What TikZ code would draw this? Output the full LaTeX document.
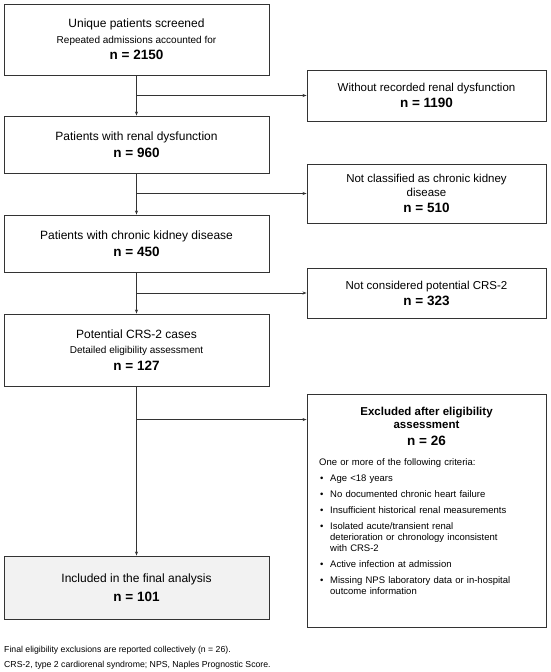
\documentclass[tikz,border=0pt]{standalone}
\usepackage{fontspec}
\setmainfont{Liberation Sans}
\usetikzlibrary{arrows.meta,positioning}
\def\nval#1{{\fontsize{13.5}{16}\selectfont\bfseries n = #1}}
\def\subtxt#1{{\fontsize{10}{15.5}\selectfont #1}}
\def\critem#1{\par\hangindent=11pt\hangafter=1\noindent\makebox[11pt][l]{\hspace{1pt}\textbullet}#1\par}
\def\brk{\hfil\break}
\tikzset{
	mainbox/.style={draw=black!80, line width=0.9pt, minimum width=265pt, align=center, inner sep=2pt, font=\fontsize{12}{15.5}\selectfont},
	sidebox/.style={draw=black!80, line width=0.9pt, minimum width=239pt, align=center, inner sep=2pt, font=\fontsize{11.5}{14}\selectfont},
	flowline/.style={draw=black!80, line width=0.8pt},
	flowarrow/.style={flowline, -{Stealth[length=4pt,width=3pt]}},
}

\begin{document}
\begin{tikzpicture}[x=1pt,y=-1pt]
			%%%%% START %%%%%
			\useasboundingbox (0,0) rectangle (550,672);
			
			\node[mainbox, minimum height=71pt] (screened) at (136.5,39.5) {Unique patients screened\\\subtxt{Repeated admissions accounted for}\\[1pt]\nval{2150}};
			\node[mainbox, minimum height=57pt] (renal) at (136.5,144.5) {Patients with renal dysfunction\\[1.5pt]\nval{960}};
			\node[mainbox, minimum height=57pt] (ckd) at (136.5,243.5) {Patients with chronic kidney disease\\[1.5pt]\nval{450}};
			\node[mainbox, minimum height=72pt] (crs) at (136.5,350) {Potential CRS-2 cases\\\subtxt{Detailed eligibility assessment}\\[1pt]\nval{127}};
			\node[mainbox, minimum height=63pt, fill=black!5] (final) at (136.5,587.5) {Included in the final analysis\\[3pt]\nval{101}};
			
			\node[sidebox, minimum height=51pt] (norenal) at (426.5,95.5) {Without recorded renal dysfunction\\[2pt]\nval{1190}};
			\node[sidebox, minimum height=59pt] (nockd) at (426.5,193.5) {Not classified as chronic kidney\\disease\\[2pt]\nval{510}};
			\node[sidebox, minimum height=50pt] (nocrs) at (426.5,293) {Not considered potential CRS-2\\[2pt]\nval{323}};
			\node[sidebox, minimum height=233pt] (excluded) at (426.5,510.5) {};
			
			% text of the exclusion box
			\node[font=\fontsize{11.5}{12.5}\selectfont\bfseries, align=center, inner sep=0pt] (exhead) at (426.5,418) {Excluded after eligibility\\assessment};
			\node[inner sep=0pt] (exn) at (426.5,441) {\nval{26}};
			\node[anchor=north west, text width=215pt, inner sep=0pt, align=left, font=\fontsize{9.5}{11}\selectfont] (exlist) at (319,458.5) {\setlength{\parskip}{5pt}One or more of the following criteria:
				\critem{Age <18 years}
				\critem{No documented chronic heart failure}
				\critem{Insufficient historical renal measurements}
				\critem{Isolated acute/transient renal\brk deterioration or chronology inconsistent\brk with CRS-2}
				\critem{Active infection at admission}
				\critem{Missing NPS laboratory data or in-hospital\brk outcome information}};
			
			% main flow
			\draw[flowarrow] (screened.south) -- (renal.north);
			\draw[flowarrow] (renal.south) -- (ckd.north);
			\draw[flowarrow] (ckd.south) -- (crs.north);
			\draw[flowarrow] (crs.south) -- (final.north);
			
			% exclusions
			\coordinate (exjoin) at ([yshift=-26pt]excluded.north west);
			\draw[flowarrow] (screened.south |- norenal.west) -- (norenal.west);
			\draw[flowarrow] (renal.south |- nockd.west) -- (nockd.west);
			\draw[flowarrow] (ckd.south |- nocrs.west) -- (nocrs.west);
			\draw[flowarrow] (crs.south |- exjoin) -- (exjoin);
			
			\node[anchor=west, inner sep=0pt, font=\fontsize{8.7}{10}\selectfont] (note) at (4,650) {Final eligibility exclusions are reported collectively (n = 26).};
			\node[anchor=west, inner sep=0pt, font=\fontsize{8.7}{10}\selectfont] (abbrev) at (4,665.5) {CRS-2, type 2 cardiorenal syndrome; NPS, Naples Prognostic Score.};
			
			%%%%% END %%%%%
\end{tikzpicture}
\end{document}
